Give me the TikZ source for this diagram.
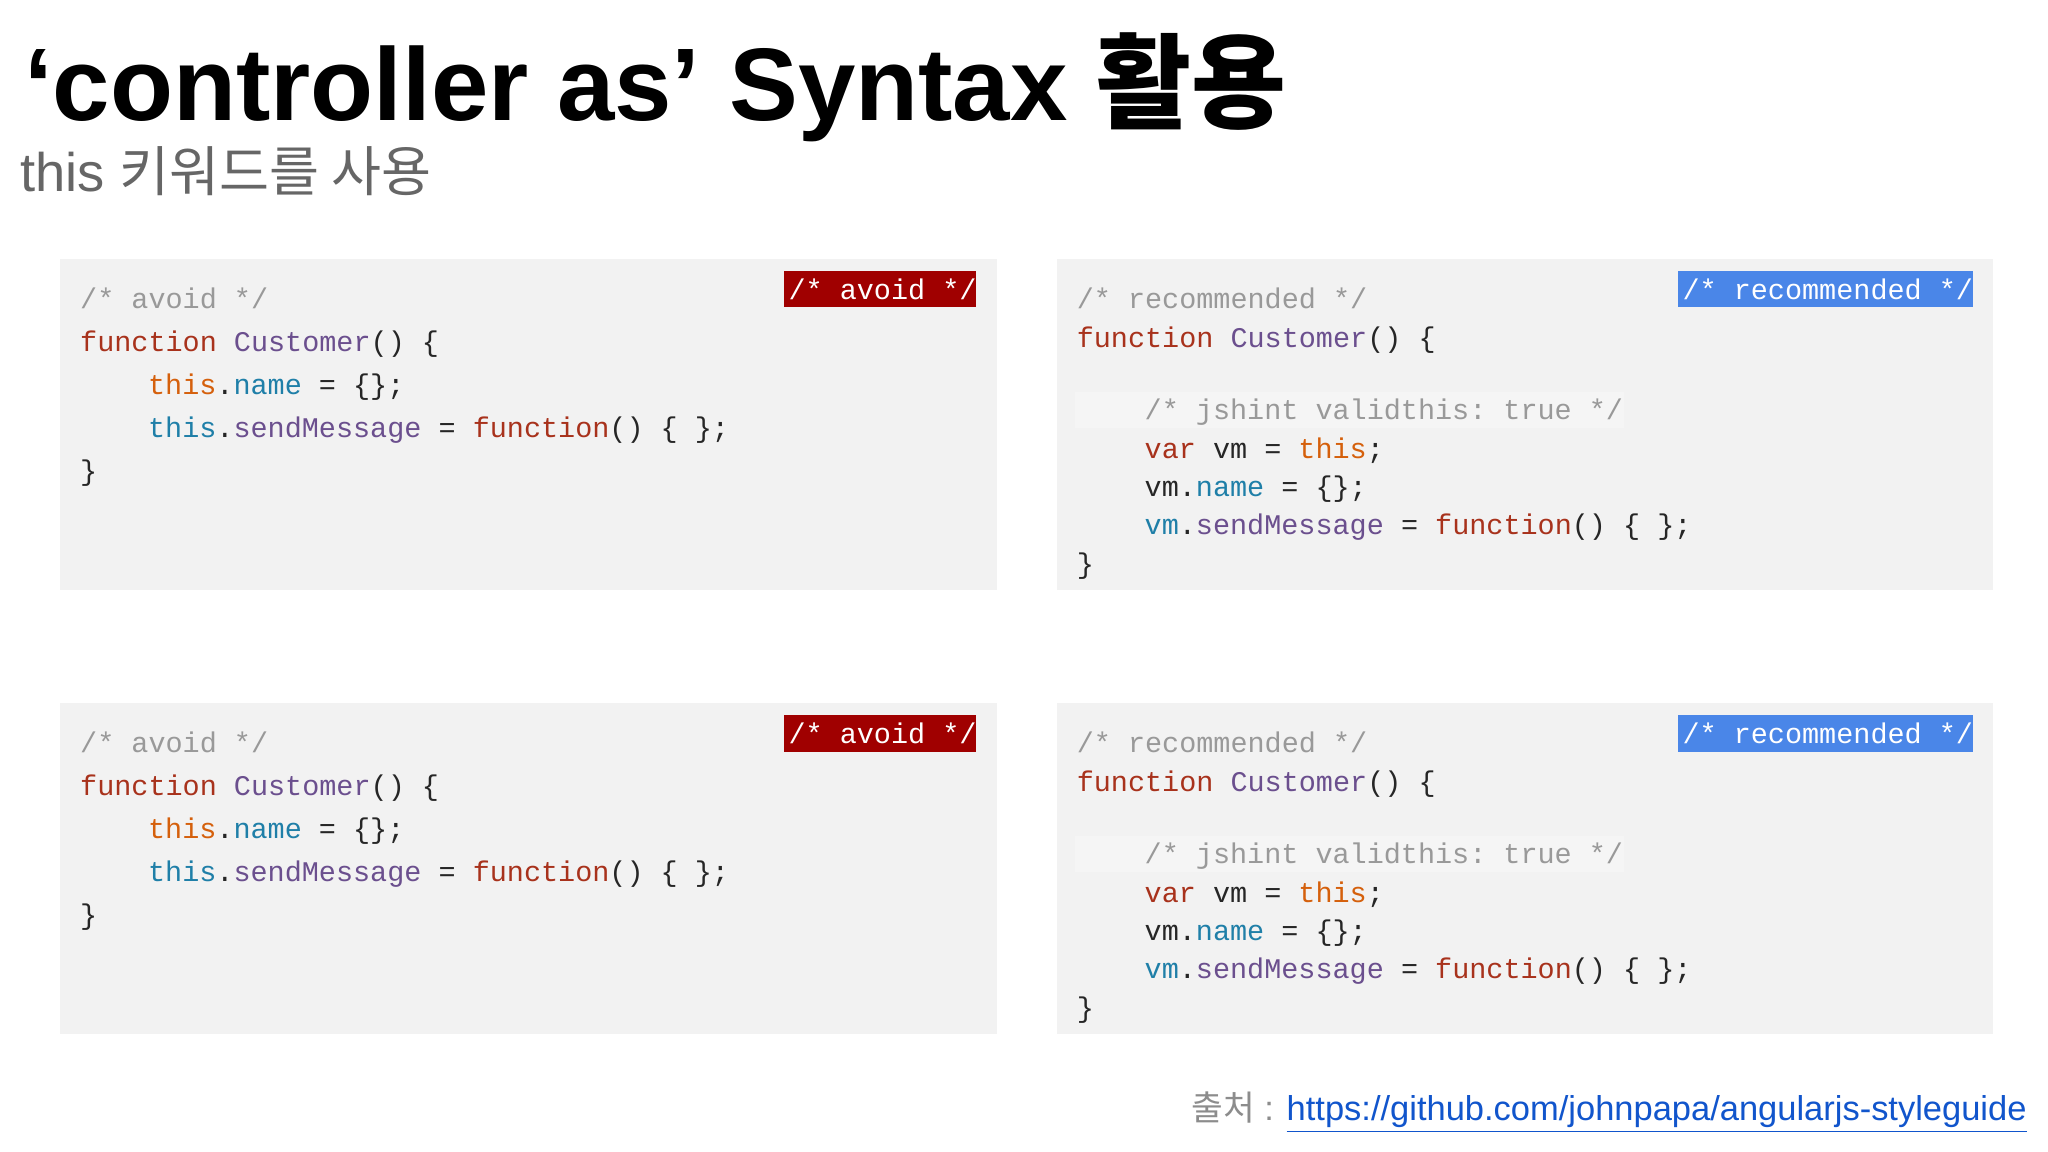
\documentclass[tikz,border=0pt]{standalone}
\usepackage{fontspec}
\setmainfont{Liberation Sans}
\setmonofont{Liberation Mono}
\newfontfamily\kr{Noto Sans CJK KR}
\definecolor{bg}{HTML}{F2F2F2}
\definecolor{cm}{HTML}{999999}
\definecolor{kw}{HTML}{A8321C}
\definecolor{fn}{HTML}{6B4F8E}
\definecolor{th}{HTML}{D5600C}
\definecolor{pr}{HTML}{1F7FA8}
\definecolor{avoidc}{HTML}{A00000}
\definecolor{recc}{HTML}{4A86E8}
\definecolor{lnk}{HTML}{1155CC}
\newcommand{\C}[2]{\textcolor{#1}{#2}}
\tikzset{
  x=0.5pt, y=-0.5pt,
  codebox/.style={fill=bg, draw=none},
  code/.style={anchor=base west, inner sep=0pt, font=\ttfamily\fontsize{10.9pt}{12pt}\selectfont, text=black!85},
  tagav/.style={fill=avoidc, text=white, inner sep=0pt, anchor=north east, minimum height=14pt, font=\ttfamily\fontsize{10.9pt}{12pt}\selectfont},
  tagrec/.style={fill=recc, text=white, inner sep=0pt, anchor=north east, minimum height=14pt, font=\ttfamily\fontsize{10.9pt}{12pt}\selectfont},
}
\begin{document}
\begin{tikzpicture}
\useasboundingbox (0,0) rectangle (1568,882);
\fill[white] (0,0) rectangle (1568,882);
\node[anchor=base west, inner sep=0pt, font=\bfseries\fontsize{39.5pt}{41pt}\selectfont] (title) at (18,92) {‘controller as’ Syntax {\kr\bfseries 활용}};
\node[anchor=base west, inner sep=0pt, text=black!60, font=\fontsize{20.8pt}{22pt}\selectfont] (sub) at (15,147) {this {\kr 키워드를 사용}};

% avoid boxes
\foreach \yy/\nm in {0/a,340/b}{
  \fill[codebox] (46,198+\yy) rectangle (763,452+\yy);
  \node[tagav] (tag\nm) at (748,207+\yy) {\,/* avoid */};
  \node[code] (l1\nm) at (61,236+\yy) {\C{cm}{/* avoid */}};
  \node[code] (l2\nm) at (61,269+\yy) {\C{kw}{function} \C{fn}{Customer}() \{};
  \node[code] (l3\nm) at (113,302+\yy) {\C{th}{this}.\C{pr}{name} = \{\};};
  \node[code] (l4\nm) at (113,335+\yy) {\C{pr}{this}.\C{fn}{sendMessage} = \C{kw}{function}() \{ \};};
  \node[code] (l5\nm) at (61,368+\yy) {\}};
}
% recommended boxes
\foreach \yy/\nm in {0/c,340/d}{
  \fill[codebox] (809,198+\yy) rectangle (1526,452+\yy);
  \node[tagrec] (tag\nm) at (1511,207+\yy) {\,/* recommended */};
  \fill[black!4] (823,300+\yy) rectangle (1243,328+\yy);
  \node[code] (m1\nm) at (824,236+\yy) {\C{cm}{/* recommended */}};
  \node[code] (m2\nm) at (824,266+\yy) {\C{kw}{function} \C{fn}{Customer}() \{};
  \node[code] (m3\nm) at (876,321+\yy) {\C{cm}{/* jshint validthis: true */}};
  \node[code] (m4\nm) at (876,351+\yy) {\C{kw}{var} vm = \C{th}{this};};
  \node[code] (m5\nm) at (876,380+\yy) {vm.\C{pr}{name} = \{\};};
  \node[code] (m6\nm) at (876,409+\yy) {\C{pr}{vm}.\C{fn}{sendMessage} = \C{kw}{function}() \{ \};};
  \node[code] (m7\nm) at (824,439+\yy) {\}};
}
\node[anchor=base east, inner sep=0pt, font=\fontsize{13.2pt}{15pt}\selectfont] (src) at (1552,858) {\textcolor{black!45}{\kr 출처} \textcolor{black!45}{:} \textcolor{lnk}{\underline{https://github.com/johnpapa/angularjs-styleguide}}};
\end{tikzpicture}
\end{document}
